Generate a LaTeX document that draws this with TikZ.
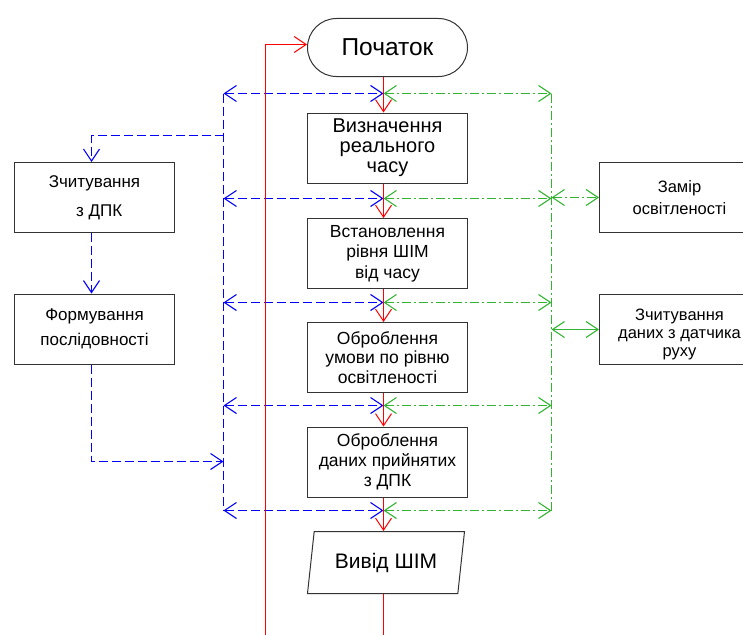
\documentclass[tikz,border=0pt]{standalone}
\usepackage{fontspec}
\setmainfont{Liberation Sans}
\usetikzlibrary{arrows.meta,shapes.geometric}

\definecolor{busblue}{RGB}{0,0,255}
\definecolor{busgreen}{RGB}{50,180,50}
\definecolor{flowred}{RGB}{255,0,0}

\tikzset{
  blok/.style={draw=black!80, line width=1pt, minimum width=160pt,
    minimum height=70pt, inner sep=0pt, align=center},
  flow/.style={color=flowred, line width=1pt},
  dbus/.style={color=busblue, line width=1.1pt, dash pattern=on 9pt off 4pt},
  gbus/.style={color=busgreen, line width=1.1pt, dash pattern=on 9pt off 3pt on 2pt off 3pt},
  gline/.style={color=busgreen, line width=1.1pt}
}

\newcommand{\fs}[2]{\fontsize{#1}{#2}\selectfont}

\begin{document}
\begin{tikzpicture}[x=1pt, y=-1pt, >={Straight Barb[length=12pt,width=16pt]}]
    \useasboundingbox (-0.5,-0.5) rectangle (742.5,633.5);

    % main column
    \node[blok, minimum height=58pt, rounded corners=29pt, font=\fs{24.5}{28}] (start) at (387,47) {Початок};
    \node[blok, font=\fs{20}{20}] (b1) at (387,147.5) {Визначення\\реального\\часу};
    \node[blok, font=\fs{17.5}{20.5}] (b2) at (387,253) {Встановлення\\рівня ШІМ\\від часу};
    \node[blok, font=\fs{17.5}{19.5}] (b3) at (387,357) {Оброблення\\умови по рівню\\освітленості};
    \node[blok, font=\fs{17.5}{20}] (b4) at (387,461.5) {Оброблення\\даних прийнятих\\з ДПК};
    \node[draw=black!80, line width=1pt, trapezium, trapezium left angle=71,
      trapezium right angle=109, trapezium stretches body, minimum width=157pt,
      minimum height=62pt, inner sep=0pt, font=\fs{21}{24}] (out) at (385.5,562) {Вивід ШІМ\\[6pt]};

    % side blocks
    \node[blok, font=\fs{17}{29}] (lz) at (94,197) {Зчитування\\\ \ з ДПК};
    \node[blok, font=\fs{17}{25}] (lf) at (94,328.5) {Формування\\послідовності};
    \node[blok, font=\fs{16.5}{22}] (rz) at (679,197) {Замір\\освітленості};
    \node[blok, font=\fs{16.5}{18}] (rd) at (679,329) {\mbox{}\\[4pt]Зчитування\\даних з датчика\\руху};

    % data buses
    \foreach \i/\y in {1/93,2/198,3/302,4/405,5/510} {
        \coordinate (bl\i) at (223,\y);
        \coordinate (bm\i) at (383,\y);
        \coordinate (br\i) at (551,\y);
    }
    \draw[dbus] (bl1) -- (bl5);
    \draw[gbus] (br1) -- (br5);
    \foreach \i in {1,...,5} {
        \draw[dbus,<->] (bl\i) -- (bm\i);
        \draw[gbus,<->] (bm\i) -- (br\i);
    }

    % left branch
    \coordinate (lcol) at (91,0);
    \coordinate (tapL) at (223,135);
    \coordinate (joinL) at (223,461);
    \draw[dbus,->] (tapL) -| (lz.north -| lcol);
    \draw[dbus,->] (lz.south -| lcol) -- (lf.north -| lcol);
    \draw[dbus,->] (lf.south -| lcol) |- (joinL);

    % right branch
    \draw[gbus,<->] (rz.west -| br1) -- (rz.west);
    \draw[gline,<->] (rd.west -| br1) -- (rd.west);

    % control flow
    \coordinate (spine) at (383,0);
    \coordinate (fend) at (383,634);
    \coordinate (lbot) at (265,634);
    \draw[flow,->] (start.south -| spine) -- (b1.north -| spine);
    \draw[flow,->] (b1.south -| spine) -- (b2.north -| spine);
    \draw[flow,->] (b2.south -| spine) -- (b3.north -| spine);
    \draw[flow,->] (b3.south -| spine) -- (b4.north -| spine);
    \draw[flow,->] (b4.south -| spine) -- (out.north -| spine);
    \draw[flow] (out.south -| spine) -- (fend);
    \draw[flow,->] (lbot) |- ([yshift=3pt]start.west);
\end{tikzpicture}
\end{document}
